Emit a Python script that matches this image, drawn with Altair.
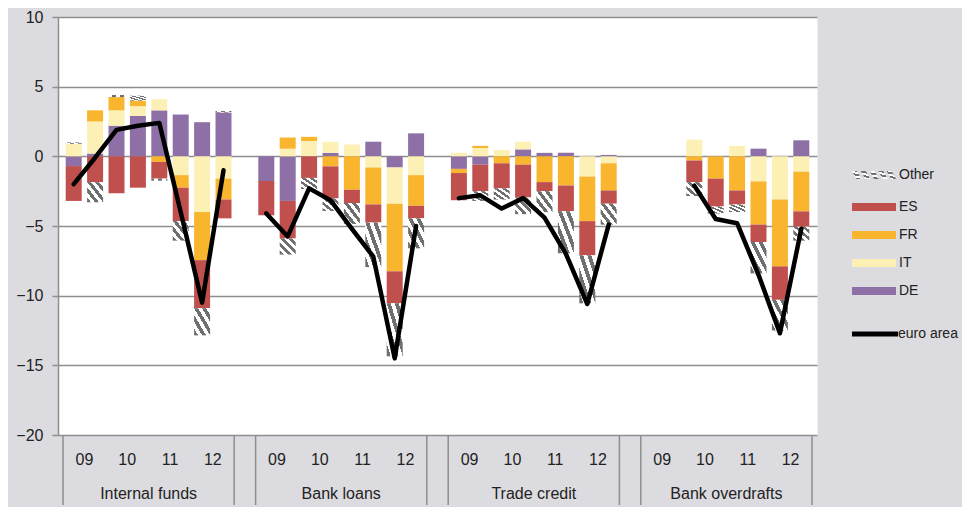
import altair as alt
import pandas as pd

# ---------------- data ----------------
groups = ["Internal funds", "Bank loans", "Trade credit", "Bank overdrafts"]
years = ["09", "10", "11", "12"]
halves = ["H1", "H2"]

# stacking order from zero outward (first series nearest zero)
stack_series = ["DE", "IT", "FR", "ES", "Other"]
country_legend = ["ES", "FR", "IT", "DE"]

# values per group, 8 half-years 2009H1 .. 2012H2 (None = no data)
DE = {
    "Internal funds":  [-0.7, 0.2, 2.2, 2.9, 3.3, 3.0, 2.45, 3.15],
    "Bank loans":      [-1.77, -3.2, 0.0, 0.25, 0.0, 1.05, -0.8, 1.65],
    "Trade credit":    [-0.9, -0.6, 0.0, 0.5, 0.25, 0.25, 0.0, 0.1],
    "Bank overdrafts": [None, None, 0.0, 0.0, 0.0, 0.55, 0.0, 1.15],
}
IT = {
    "Internal funds":  [0.9, 2.3, 1.1, 0.7, 0.8, -1.35, -4.0, -1.6],
    "Bank loans":      [0.0, 0.55, 1.1, 0.8, 0.85, -0.8, -2.6, -1.35],
    "Trade credit":    [0.25, 0.6, 0.45, 0.55, 0.0, 0.0, -1.45, -0.5],
    "Bank overdrafts": [None, None, 1.2, 0.0, 0.75, -1.8, -3.1, -1.1],
}
FR = {
    "Internal funds":  [0.0, 0.8, 0.95, 0.4, -0.4, -0.9, -3.45, -1.5],
    "Bank loans":      [0.0, 0.8, 0.3, -0.72, -2.4, -2.65, -4.85, -2.2],
    "Trade credit":    [-0.3, 0.15, -0.5, -0.6, -1.85, -2.1, -3.2, -1.95],
    "Bank overdrafts": [None, None, -0.3, -1.6, -2.45, -3.1, -4.8, -2.85],
}
ES = {
    "Internal funds":  [-2.5, -1.85, -2.65, -2.25, -1.2, -2.4, -3.45, -1.35],
    "Bank loans":      [-2.46, -2.7, -1.55, -2.3, -0.95, -1.3, -2.3, -0.9],
    "Trade credit":    [-1.95, -1.9, -1.8, -2.35, -0.65, -1.85, -2.45, -0.95],
    "Bank overdrafts": [None, None, -1.55, -2.0, -1.0, -1.25, -2.4, -1.1],
}
Other = {
    "Internal funds":  [0.1, -1.45, 0.15, 0.35, -0.15, -1.4, -1.95, 0.1],
    "Bank loans":      [0.0, -1.15, -0.8, -0.9, -1.5, -3.2, -3.8, -2.15],
    "Trade credit":    [0.0, -0.7, -0.8, -1.2, -1.5, -3.0, -3.45, -1.5],
    "Bank overdrafts": [None, None, -1.0, -0.5, -0.55, -2.25, -2.2, -1.0],
}
euro_area = {
    "Internal funds":  [-2.0, -0.1, 1.9, 2.2, 2.4, -4.0, -10.5, -1.0],
    "Bank loans":      [-4.1, -5.75, -2.3, -3.15, -5.2, -7.2, -14.5, -5.0],
    "Trade credit":    [-3.0, -2.8, -3.75, -3.0, -4.4, -7.0, -10.6, -4.9],
    "Bank overdrafts": [None, None, -2.1, -4.5, -4.8, -8.5, -12.7, -5.2],
}

series_data = {"DE": DE, "IT": IT, "FR": FR, "ES": ES, "Other": Other}
colors = {"ES": "#c0504d", "FR": "#f9b52e", "IT": "#fdf0b5", "DE": "#8e70a6"}

# category index: 8 half-years per group plus one empty slot between groups
SLOTS = len(years) * len(halves)
STEP = SLOTS + 1

bar_rows, line_rows, year_rows, group_rows, sep_rows = [], [], [], [], []
for g, grp in enumerate(groups):
    for i in range(SLOTS):
        pos = g * STEP + i
        for k, s in enumerate(stack_series):
            v = series_data[s][grp][i]
            if v is not None and v != 0:
                bar_rows.append({"pos": pos, "series": s, "value": v, "order": k})
        e = euro_area[grp][i]
        if e is not None:
            line_rows.append({"pos": pos, "value": e, "group": grp, "series": "euro area"})
    for y, yr in enumerate(years):
        year_rows.append({"pos": g * STEP + 2 * y + 0.5, "label": yr})
    group_rows.append({"pos": g * STEP + (SLOTS - 1) / 2, "label": grp})
    sep_rows.append({"pos": g * STEP - 0.5})
    sep_rows.append({"pos": g * STEP + SLOTS - 0.5})

bars_df = pd.DataFrame(bar_rows)
line_df = pd.DataFrame(line_rows)
year_df = pd.DataFrame(year_rows)
group_df = pd.DataFrame(group_rows)
sep_df = pd.DataFrame(sep_rows)

# ---------------- style ----------------
FONT = "Liberation Sans, Arial, sans-serif"
TEXT = "#222222"
GRID = "#8e8e8e"
BG = "#dcdce0"
HATCH = "#6f6f6f"
W, H = 759, 418
NCAT = len(groups) * STEP - 1


def stripes(n, x1, y1, x2, y2, dark=HATCH, light="#ffffff"):
    stops = []
    for k in range(n):
        a, b, c = k / n, (k + 0.5) / n, (k + 1) / n
        stops += [{"offset": a, "color": dark}, {"offset": b, "color": dark},
                  {"offset": b, "color": light}, {"offset": c, "color": light}]
    return {"gradient": "linear", "x1": x1, "y1": y1, "x2": x2, "y2": y2, "stops": stops}


bar_hatch = stripes(4, 0, 1, 1, 0)

# legend swatches (unit shapes, scaled by the legend symbol size)
RECT = "M-2,-0.36H2V0.36H-2Z"
SLASHES = " ".join(
    f"M{a:.2f},-0.36L{a + 0.45:.2f},-0.36L{a + 0.85:.2f},0.36L{a + 0.40:.2f},0.36Z"
    for a in (-2.0, -1.2, -0.4, 0.4, 1.15)
)

xscale = alt.Scale(domain=[-0.5, NCAT - 0.5], nice=False, zero=False)
yscale = alt.Scale(domain=[-20, 10], nice=False)
yaxis = alt.Axis(values=[-20, -15, -10, -5, 0, 5, 10], title=None, grid=True,
                 gridColor=GRID, gridWidth=1.5, domainColor=GRID, domainWidth=1.5,
                 tickColor=GRID, tickWidth=1.5, tickSize=6, labelFontSize=16,
                 labelFont=FONT, labelColor=TEXT, labelPadding=9)

X = alt.X("pos:Q", scale=xscale, axis=None)
LEG = dict(title=None, orient="none", legendX=794, padding=0,
           labelFontSize=14, labelFont=FONT, labelColor=TEXT)

base = alt.Chart(bars_df).transform_stack(
    stack="value", groupby=["pos"], as_=["v0", "v1"],
    sort=[alt.SortField("order", "ascending")], offset="zero")

bars = base.transform_filter(alt.datum.series != "Other").mark_bar(size=16).encode(
    x=X,
    y=alt.Y("v0:Q", scale=yscale, axis=yaxis),
    y2="v1:Q",
    color=alt.Color(
        "series:N",
        scale=alt.Scale(domain=country_legend, range=[colors[s] for s in country_legend]),
        legend=alt.Legend(legendY=179, symbolType=RECT, symbolSize=484, symbolStrokeWidth=0,
                          symbolOffset=11, labelOffset=14, rowPadding=10, **LEG),
    ),
)

hatch = base.transform_filter(alt.datum.series == "Other").mark_bar(size=16, fill=bar_hatch).encode(
    x=X,
    y=alt.Y("v0:Q", scale=yscale, axis=yaxis),
    y2="v1:Q",
    opacity=alt.Opacity(
        "series:N",
        scale=alt.Scale(domain=["Other"], range=[1]),
        legend=alt.Legend(legendY=147, symbolType=SLASHES, symbolSize=484, symbolStrokeWidth=0,
                          symbolFillColor=HATCH, symbolOffset=11, labelOffset=14, **LEG),
    ),
)

line = alt.Chart(line_df).mark_line(strokeWidth=4.5, strokeJoin="round", strokeCap="round").encode(
    x=X,
    y=alt.Y("value:Q", scale=yscale, axis=yaxis),
    detail="group:N",
    stroke=alt.Stroke(
        "series:N",
        scale=alt.Scale(domain=["euro area"], range=["#000000"]),
        legend=alt.Legend(legendY=303, symbolType="M-2,0H2", symbolSize=529, symbolStrokeWidth=5,
                          symbolOffset=9, labelOffset=9, **LEG),
    ),
)

seps = alt.Chart(sep_df).mark_rule(color=GRID, strokeWidth=1.5).encode(
    x=X, y=alt.value(H), y2=alt.value(H + 70))

year_text = alt.Chart(year_df).mark_text(fontSize=16, font=FONT, color=TEXT, baseline="middle").encode(
    x=X, y=alt.value(H + 25), text="label:N")

group_text = alt.Chart(group_df).mark_text(fontSize=16, font=FONT, color=TEXT, baseline="middle").encode(
    x=X, y=alt.value(H + 59), text="label:N")

chart = alt.layer(bars, hatch, line, seps, year_text, group_text).properties(
    width=W, height=H,
    padding={"left": 50, "top": 9, "right": 145, "bottom": 72},
    autosize=alt.AutoSizeParams(type="none"),
    background=BG,
).configure_view(fill="white", stroke="transparent")

chart.save("out.html", embed_options={"renderer": "svg", "actions": False})
